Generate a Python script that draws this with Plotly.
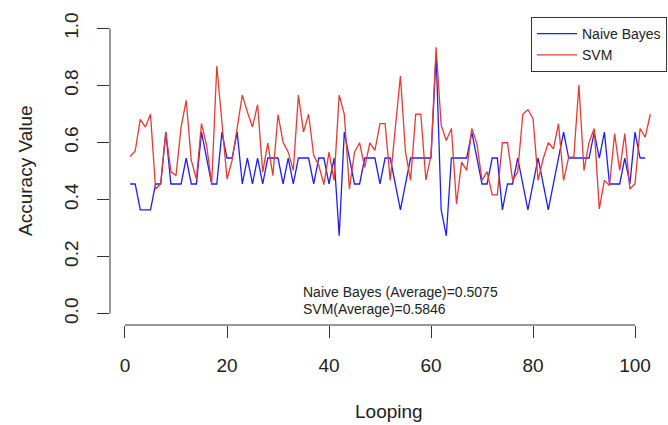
import plotly.graph_objects as go

loop = list(range(1, 104))

naive_bayes = [
    0.4545, 0.4545, 0.3636, 0.3636, 0.3636, 0.4545, 0.4545, 0.6364, 0.4545, 0.4545,
    0.4545, 0.5455, 0.4545, 0.4545, 0.6364, 0.5455, 0.4545, 0.4545, 0.6364, 0.5455,
    0.5455, 0.6364, 0.4545, 0.5455, 0.4545, 0.5455, 0.4545, 0.5455, 0.5455, 0.5455,
    0.4545, 0.5455, 0.4545, 0.5455,
    0.5455, 0.5455, 0.4545, 0.5455, 0.5455, 0.4545, 0.5455, 0.2727, 0.6364, 0.5455,
    0.4545, 0.4545, 0.5455, 0.5455, 0.5455, 0.4545, 0.5455, 0.5455, 0.4545, 0.3636,
    0.4545, 0.5455, 0.5455, 0.5455, 0.5455, 0.5455, 0.9091, 0.3636, 0.2727, 0.5455,
    0.5455, 0.5455, 0.5455, 0.6364, 0.5455,
    0.4545, 0.4545, 0.5455, 0.5455, 0.3636, 0.4545, 0.4545, 0.5455, 0.4545, 0.3636,
    0.4545, 0.5455, 0.4545, 0.3636, 0.4545, 0.5455, 0.6364, 0.5455, 0.5455, 0.5455,
    0.5455, 0.5455, 0.6364, 0.5455, 0.6364, 0.4545, 0.4545, 0.4545, 0.5455, 0.4545,
    0.6364, 0.5455, 0.5455,
]

svm = [
    0.551, 0.570, 0.681, 0.654, 0.699, 0.437, 0.455, 0.637, 0.498, 0.484,
    0.654, 0.748, 0.537, 0.472, 0.666, 0.590, 0.455, 0.868, 0.672, 0.472,
    0.537, 0.654, 0.766, 0.707, 0.654, 0.733, 0.496, 0.598, 0.484, 0.698,
    0.601, 0.566, 0.502, 0.766,
    0.637, 0.699, 0.555, 0.519, 0.452, 0.566, 0.467, 0.766, 0.699, 0.437,
    0.566, 0.599, 0.513, 0.599, 0.572, 0.666, 0.666, 0.467, 0.654, 0.833,
    0.566, 0.467, 0.699, 0.699, 0.469, 0.555, 0.934, 0.660, 0.607, 0.649,
    0.384, 0.531, 0.502,
    0.649, 0.596, 0.467, 0.498, 0.416, 0.416, 0.599, 0.599, 0.467, 0.496,
    0.699, 0.715, 0.684, 0.467, 0.543, 0.599, 0.578, 0.666, 0.467, 0.549,
    0.549, 0.801, 0.502, 0.601, 0.649, 0.367, 0.467, 0.449, 0.631, 0.502,
    0.631, 0.437, 0.455, 0.649, 0.619, 0.699,
]

x_ticks = [0, 20, 40, 60, 80, 100]
y_ticks = [0.0, 0.2, 0.4, 0.6, 0.8, 1.0]
y_tick_text = ["0.0", "0.2", "0.4", "0.6", "0.8", "1.0"]

nb_avg_label = "Naive Bayes (Average)=0.5075"
svm_avg_label = "SVM(Average)=0.5846"

FONT = "Liberation Sans, Arial, Helvetica, sans-serif"
AX = "#333333"

fig = go.Figure()
fig.add_trace(go.Scatter(x=loop, y=naive_bayes, mode="lines", name="Naive Bayes",
                         line=dict(color="#1F1FF0", width=1.3)))
fig.add_trace(go.Scatter(x=loop, y=svm, mode="lines", name="SVM",
                         line=dict(color="#E53B35", width=1.3)))

fig.update_layout(
    width=668, height=425,
    margin=dict(l=110, r=0, t=17, b=100),
    paper_bgcolor="white", plot_bgcolor="white",
    font=dict(family=FONT, color="#222222"),
    showlegend=True,
    legend=dict(x=0.7545, y=1.0, xanchor="left", yanchor="top",
                bgcolor="white", bordercolor=AX, borderwidth=1,
                font=dict(size=14, family=FONT, color="#222222"),
                tracegroupgap=0, itemwidth=40),
    xaxis=dict(range=[-2.94, 106.47], tickvals=x_ticks, showgrid=False, zeroline=False,
               showline=False, ticks="outside", ticklen=12, tickwidth=1, tickcolor=AX,
               tickfont=dict(size=19), ticklabelstandoff=11, automargin=False),
    yaxis=dict(range=[-0.04, 1.04], tickvals=y_ticks, ticktext=y_tick_text,
               showgrid=False, zeroline=False, showline=False, ticks="outside",
               ticklen=12, tickwidth=1, tickcolor=AX, tickangle=-90,
               tickfont=dict(size=19), ticklabelstandoff=11, automargin=False),
)

# R-style axis lines spanning only the tick range
fig.add_shape(type="line", xref="x", yref="paper", x0=0, x1=100, y0=0, y1=0,
              line=dict(color=AX, width=1))
fig.add_shape(type="line", xref="paper", yref="y", x0=0, x1=0, y0=0, y1=1,
              line=dict(color=AX, width=1))

fig.add_annotation(text="Looping", xref="paper", yref="paper", x=0.5, y=0,
                   yshift=-86, xanchor="center", yanchor="middle", showarrow=False,
                   font=dict(size=19))
fig.add_annotation(text="Accuracy Value", xref="paper", yref="paper", x=0, y=0.5,
                   xshift=-85, xanchor="center", yanchor="middle", textangle=-90,
                   showarrow=False, font=dict(size=19))
fig.add_annotation(text=nb_avg_label, xref="x", yref="y", x=34.5, y=0.077,
                   xanchor="left", yanchor="middle", showarrow=False, font=dict(size=14))
fig.add_annotation(text=svm_avg_label, xref="x", yref="y", x=34.5, y=0.016,
                   xanchor="left", yanchor="middle", showarrow=False, font=dict(size=14))

fig.write_html("out.html", config={"displayModeBar": False},
               post_script="document.body.style.margin='0px';")
